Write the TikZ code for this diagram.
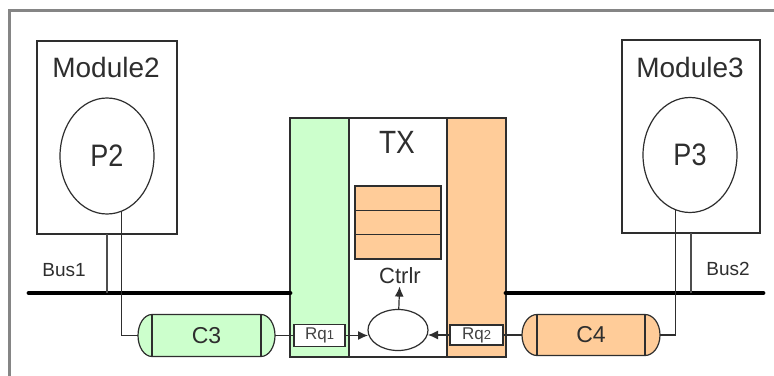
\documentclass[tikz,border=0pt]{standalone}
\usepackage{fontspec}
\setmainfont{Liberation Sans}
\usetikzlibrary{shapes.geometric,arrows.meta}
\definecolor{lgreen}{HTML}{CCFFCC}
\definecolor{lorange}{HTML}{FFCC99}
\definecolor{ln}{HTML}{2E2E2E}
\definecolor{frm}{HTML}{858585}
\newcommand\myfsM{\fontsize{28}{30}\selectfont}
\newcommand\myfsP{\fontsize{27}{30}\selectfont}
\newcommand\myfsC{\fontsize{23}{26}\selectfont}
\newcommand\myfsK{\fontsize{22}{24}\selectfont}
\newcommand\myfsB{\fontsize{19}{22}\selectfont}
\newcommand\myfsR{\fontsize{17}{18}\selectfont}
\newcommand\myfsS{\fontsize{13}{14}\selectfont}
\newcommand\mytall[1]{\scalebox{1}[1.15]{#1}}
\tikzset{
  every node/.style={inner sep=0pt, outer sep=0pt, text=ln},
  lnstyle/.style={draw=ln, line width=1.2pt},
  box/.style={rectangle, lnstyle},
  ell/.style={ellipse, lnstyle},
  rq/.style={rectangle, lnstyle, fill=white, font=\myfsR, text=ln!90},
  bus/.style={draw=black, line width=4.8pt, line cap=round},
  frame/.style={draw=frm, line width=3pt},
  stub/.style={draw=ln!85, line width=1.4pt},
  arr/.style={draw=ln, line width=1.2pt, -{Latex[length=10pt,width=9pt]}},
  capsule/.style={draw=ln, line width=1.2pt},
}
\begin{document}
\begin{tikzpicture}[x=1pt,y=-1pt]
\useasboundingbox (0,0) rectangle (774,375);
\fill[white] (0,0) rectangle (774,375);
\draw[frame] (9,376) -- (9,10) -- (775,10);

% Module2
\node[box, minimum width=140pt, minimum height=193pt] (mod2) at (107,137.5) {};
\node[font=\myfsM] (m2t) at (106,67.5) {Module2};
\node[ell, minimum width=94pt, minimum height=116pt, font=\myfsP] (p2) at (107,156) {\mytall{P2}};

% Module3
\node[box, minimum width=138pt, minimum height=193pt] (mod3) at (691,136.5) {};
\node[font=\myfsM] (m3t) at (690,67) {Module3};
\node[ell, minimum width=94pt, minimum height=115pt, font=\myfsP] (p3) at (690,155) {\mytall{P3}};

% TX block
\node[box, fill=white, minimum width=98pt, minimum height=239pt] (tx) at (398,237.5) {};
\node[box, fill=lgreen, minimum width=59pt, minimum height=239pt] (gbox) at (319.5,237.5) {};
\node[box, fill=lorange, minimum width=59pt, minimum height=239pt] (obox) at (476.5,237.5) {};
\node[font=\myfsM] (txt) at (397,142) {\mytall{TX}};
\node[box, fill=lorange, minimum width=86pt, minimum height=24.3pt] (s1) at (398,198.2) {};
\node[box, fill=lorange, minimum width=86pt, minimum height=24.3pt] (s2) at (398,222.5) {};
\node[box, fill=lorange, minimum width=86pt, minimum height=24.3pt] (s3) at (398,246.8) {};
\node[font=\myfsK] (ctrlr) at (400,275.5) {Ctrlr};
\node[ell, fill=white, minimum width=60pt, minimum height=41pt] (ctl) at (398,330) {};
\draw[arr, shorten >=3pt] (ctl) -- (ctrlr);

\node[rq, minimum width=51pt, minimum height=22pt] (rq1) at (319.5,335.5) {Rq{\myfsS 1}};
\node[rq, minimum width=53pt, minimum height=20pt] (rq2) at (476.5,335) {Rq{\myfsS 2}};
\draw[arr] (rq1.east) -- (rq1.east -| ctl.west);
\draw[arr] (rq2.west) -- (rq2.west -| ctl.east);

% buses
\coordinate (b1s) at (29,293);
\coordinate (b2e) at (763,293);
\draw[bus] (b1s) -- (b1s -| gbox.west);
\draw[bus] (obox.east |- b2e) -- (b2e);
\node[font=\myfsB] (bus1) at (64,270) {Bus1};
\node[font=\myfsB] (bus2) at (728,269) {Bus2};
\draw[stub] (mod2.south) -- (mod2.south |- b1s);
\draw[stub] (mod3.south) -- (mod3.south |- b2e);

% capsule C3
\filldraw[capsule, fill=lgreen] (152,314.5) -- (261,314.5)
  arc[start angle=90, end angle=-90, x radius=14pt, y radius=21pt]
  -- (152,356.5)
  arc[start angle=270, end angle=90, x radius=14pt, y radius=21pt] -- cycle;
\draw[capsule] (152,314.5) -- (152,356.5) (261,314.5) -- (261,356.5);
\node[font=\myfsC, minimum width=137pt, minimum height=42pt] (c3) at (206.5,335.5) {C3};

% capsule C4
\filldraw[capsule, fill=lorange] (537,314.5) -- (645,314.5)
  arc[start angle=90, end angle=-90, x radius=15pt, y radius=20.5pt]
  -- (537,355.5)
  arc[start angle=270, end angle=90, x radius=15pt, y radius=20.5pt] -- cycle;
\draw[capsule] (537,314.5) -- (537,355.5) (645,314.5) -- (645,355.5);
\node[font=\myfsC, minimum width=138pt, minimum height=41pt] (c4) at (591,335) {C4};

% connectors
\draw[lnstyle] (p2.-75) |- (c3.west);
\draw[lnstyle] (c3.east) -- (rq1.west);
\draw[lnstyle] (rq2.east) -- (c4.west);
\draw[lnstyle] (c4.east) -| (p3.-105);
\end{tikzpicture}
\end{document}
